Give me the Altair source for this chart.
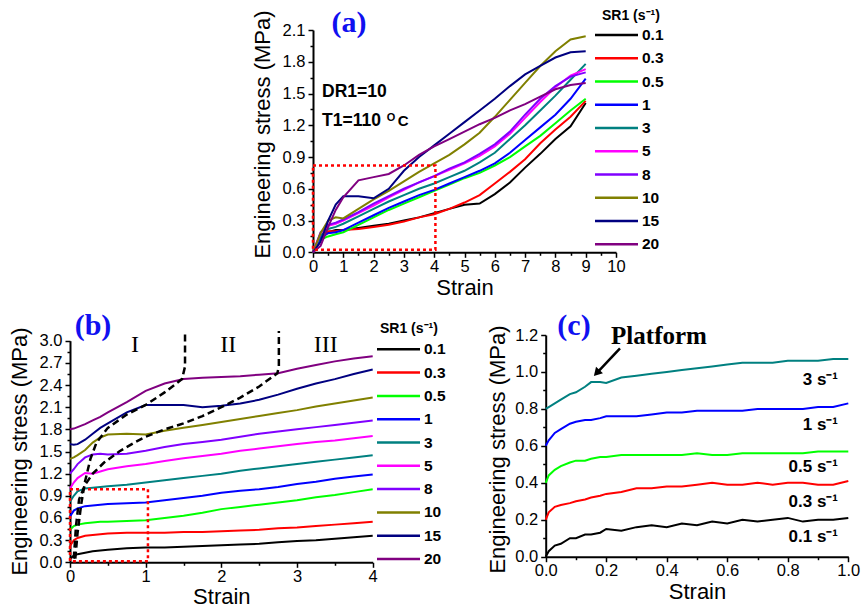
import altair as alt
import pandas as pd

SANS = "Liberation Sans"
SERIF = "Liberation Serif"

# strain-rate series shared by panels (a) and (b)
SR_LABELS = ["0.1", "0.3", "0.5", "1", "3", "5", "8", "10", "15", "20"]
SR_COLORS = ["#000000", "#ff0000", "#00ff00", "#0000ff", "#008080",
             "#ff00ff", "#8000ff", "#808000", "#000080", "#800080"]

# ---- panel (a): full stress-strain curves, DR1=10, T1=110 C ----
A_STRAIN = [0, 0.25, 0.5, 0.75, 1, 1.5, 2, 2.5, 3, 3.5, 4, 4.5, 5, 5.5, 6, 6.5, 7, 7.5, 8, 8.5, 9]
A_SR01 = [0.0, 0.12, 0.19, 0.21, 0.21, 0.23, 0.25, 0.27, 0.30, 0.33, 0.37, 0.41, 0.45, 0.46, 0.55, 0.66, 0.80, 0.93, 1.07, 1.19, 1.41]
A_SR03 = [0.0, 0.14, 0.20, 0.20, 0.21, 0.22, 0.24, 0.26, 0.29, 0.33, 0.36, 0.41, 0.47, 0.54, 0.65, 0.76, 0.88, 1.03, 1.16, 1.28, 1.43]
A_SR05 = [0.0, 0.12, 0.15, 0.17, 0.19, 0.26, 0.33, 0.40, 0.46, 0.52, 0.58, 0.64, 0.70, 0.75, 0.82, 0.90, 1.00, 1.10, 1.22, 1.34, 1.45]
A_SR1 = [0.0, 0.14, 0.18, 0.19, 0.21, 0.28, 0.35, 0.42, 0.48, 0.54, 0.59, 0.65, 0.71, 0.77, 0.84, 0.94, 1.06, 1.18, 1.30, 1.45, 1.64]
A_SR3 = [0.0, 0.16, 0.22, 0.24, 0.27, 0.34, 0.41, 0.48, 0.54, 0.60, 0.65, 0.71, 0.77, 0.85, 0.94, 1.07, 1.20, 1.34, 1.48, 1.63, 1.78]
A_SR5 = [0.0, 0.18, 0.25, 0.27, 0.30, 0.37, 0.44, 0.52, 0.59, 0.66, 0.72, 0.78, 0.84, 0.91, 1.00, 1.12, 1.27, 1.42, 1.56, 1.67, 1.73]
A_SR8 = [0.0, 0.19, 0.26, 0.28, 0.31, 0.38, 0.46, 0.53, 0.60, 0.66, 0.72, 0.79, 0.85, 0.93, 1.02, 1.14, 1.30, 1.45, 1.57, 1.66, 1.70]
A_SR10 = [0.0, 0.18, 0.30, 0.33, 0.32, 0.41, 0.50, 0.58, 0.67, 0.76, 0.84, 0.92, 1.02, 1.13, 1.28, 1.44, 1.60, 1.76, 1.90, 2.01, 2.04]
A_SR15 = [0.0, 0.10, 0.30, 0.45, 0.53, 0.53, 0.51, 0.60, 0.77, 0.90, 1.01, 1.12, 1.23, 1.34, 1.45, 1.57, 1.68, 1.76, 1.84, 1.89, 1.90]
A_SR20 = [0.0, 0.06, 0.24, 0.40, 0.52, 0.68, 0.71, 0.74, 0.82, 0.92, 1.00, 1.07, 1.14, 1.21, 1.27, 1.34, 1.40, 1.47, 1.54, 1.58, 1.60]

# ---- panel (b): strain 0-4, curves shifted upward by 0.2 MPa per rate ----
B_STRAIN = [0, 0.05, 0.1, 0.2, 0.3, 0.4, 0.5, 0.75, 1, 1.25, 1.5, 1.75, 2, 2.25, 2.5, 2.75, 3, 3.25, 3.5, 3.75, 4]
B_SR01 = [0.05, 0.09, 0.11, 0.13, 0.15, 0.16, 0.17, 0.19, 0.20, 0.20, 0.21, 0.22, 0.23, 0.24, 0.25, 0.27, 0.29, 0.30, 0.32, 0.34, 0.36]
B_SR03 = [0.22, 0.30, 0.33, 0.36, 0.37, 0.38, 0.39, 0.40, 0.40, 0.40, 0.41, 0.41, 0.42, 0.43, 0.44, 0.46, 0.47, 0.49, 0.51, 0.53, 0.55]
B_SR05 = [0.44, 0.49, 0.51, 0.53, 0.54, 0.55, 0.55, 0.56, 0.57, 0.60, 0.63, 0.67, 0.72, 0.75, 0.78, 0.81, 0.84, 0.88, 0.91, 0.95, 0.99]
B_SR1 = [0.62, 0.70, 0.73, 0.76, 0.77, 0.78, 0.79, 0.80, 0.81, 0.84, 0.87, 0.90, 0.94, 0.97, 0.99, 1.02, 1.06, 1.09, 1.13, 1.16, 1.19]
B_SR3 = [0.82, 0.90, 0.96, 1.00, 1.01, 1.02, 1.03, 1.05, 1.08, 1.11, 1.14, 1.17, 1.20, 1.24, 1.27, 1.30, 1.33, 1.36, 1.39, 1.42, 1.45]
B_SR5 = [1.00, 1.08, 1.14, 1.21, 1.20, 1.23, 1.26, 1.30, 1.33, 1.37, 1.41, 1.44, 1.47, 1.51, 1.54, 1.57, 1.60, 1.63, 1.65, 1.68, 1.71]
B_SR8 = [1.20, 1.26, 1.33, 1.42, 1.46, 1.47, 1.46, 1.47, 1.51, 1.56, 1.60, 1.63, 1.66, 1.70, 1.74, 1.77, 1.80, 1.83, 1.86, 1.89, 1.92]
B_SR10 = [1.40, 1.42, 1.45, 1.52, 1.62, 1.69, 1.73, 1.74, 1.73, 1.78, 1.82, 1.86, 1.90, 1.94, 1.98, 2.02, 2.06, 2.11, 2.15, 2.19, 2.23]
B_SR15 = [1.60, 1.59, 1.60, 1.66, 1.74, 1.82, 1.88, 2.03, 2.13, 2.13, 2.13, 2.10, 2.12, 2.15, 2.20, 2.27, 2.35, 2.42, 2.48, 2.55, 2.61]
B_SR20 = [1.80, 1.81, 1.83, 1.87, 1.92, 1.97, 2.03, 2.17, 2.32, 2.42, 2.48, 2.50, 2.51, 2.52, 2.54, 2.56, 2.62, 2.67, 2.72, 2.76, 2.79]

# region boundaries I/II and II/III
BOUND1_X = [0.07, 0.10, 0.15, 0.20, 0.27, 0.35, 0.50, 0.75, 1.00, 1.25, 1.48, 1.52, 1.52]
BOUND1_Y = [0.05, 0.40, 0.80, 1.10, 1.40, 1.62, 1.82, 2.00, 2.13, 2.30, 2.48, 2.65, 3.13]
BOUND2_X = [0.05, 0.08, 0.12, 0.20, 0.30, 0.45, 0.65, 0.85, 1.00, 1.25, 1.50, 1.75, 2.00, 2.25, 2.50, 2.74, 2.76, 2.76]
BOUND2_Y = [0.05, 0.50, 0.85, 1.05, 1.20, 1.35, 1.50, 1.62, 1.70, 1.80, 1.88, 1.98, 2.10, 2.23, 2.38, 2.56, 2.65, 3.13]

# ---- panel (c): early stage, strain 0-1 ----
C_STRAIN = [0, 0.01, 0.03, 0.05, 0.08, 0.1, 0.13, 0.15, 0.18, 0.2, 0.25, 0.3, 0.35, 0.4,
            0.45, 0.5, 0.55, 0.6, 0.65, 0.7, 0.75, 0.8, 0.85, 0.9, 0.95, 1.0]
C_SR01 = [0.0, 0.03, 0.06, 0.07, 0.10, 0.10, 0.12, 0.12, 0.13, 0.15, 0.14, 0.16, 0.17, 0.16,
          0.18, 0.17, 0.19, 0.18, 0.20, 0.19, 0.20, 0.21, 0.19, 0.20, 0.20, 0.21]
C_SR03 = [0.20, 0.24, 0.27, 0.28, 0.29, 0.30, 0.31, 0.32, 0.33, 0.34, 0.35, 0.37, 0.37, 0.38,
          0.38, 0.39, 0.40, 0.39, 0.39, 0.40, 0.39, 0.40, 0.40, 0.39, 0.39, 0.41]
C_SR05 = [0.40, 0.44, 0.47, 0.49, 0.51, 0.52, 0.52, 0.53, 0.54, 0.54, 0.55, 0.55, 0.55, 0.55,
          0.55, 0.56, 0.55, 0.55, 0.56, 0.56, 0.56, 0.56, 0.56, 0.57, 0.57, 0.57]
C_SR1 = [0.60, 0.63, 0.67, 0.69, 0.72, 0.73, 0.74, 0.74, 0.75, 0.76, 0.76, 0.76, 0.77, 0.78,
         0.78, 0.79, 0.79, 0.79, 0.79, 0.80, 0.80, 0.80, 0.80, 0.81, 0.81, 0.83]
C_SR3 = [0.80, 0.81, 0.83, 0.85, 0.88, 0.89, 0.92, 0.945, 0.945, 0.94, 0.97, 0.98, 0.99, 1.00,
         1.01, 1.02, 1.03, 1.04, 1.05, 1.05, 1.05, 1.06, 1.06, 1.06, 1.07, 1.07]
C_LABELS = ["0.1 s⁻¹", "0.3 s⁻¹", "0.5 s⁻¹", "1 s⁻¹", "3 s⁻¹"]
C_COLORS = ["#000000", "#ff0000", "#00ff00", "#0000ff", "#008080"]
C_LABEL_Y = [0.108, 0.297, 0.487, 0.714, 0.958]


def long_frame(xs, series):
    rows = []
    for label, ys in series:
        for x, y in zip(xs, ys):
            rows.append({"x": x, "y": y, "sr": label})
    return pd.DataFrame(rows)


def main_axis(orient, values, fmt, offset, title, title_pad, title_y=None):
    opts = dict(orient=orient, values=values, format=fmt, offset=offset, title=title,
                grid=False, domainColor="black", domainWidth=2, tickColor="black",
                tickWidth=1.5, tickSize=5, labelFont=SANS, labelFontSize=16.5,
                labelColor="black", labelPadding=1 if orient == "bottom" else 3,
                labelFlush=False, labelOverlap=False, titleFont=SANS, titleFontSize=22,
                titleFontWeight="normal", titleColor="black", titlePadding=title_pad)
    if title_y is not None:
        opts["titleY"] = title_y
    return alt.Axis(**opts)


def minor_axis(orient, values, offset):
    return alt.Axis(orient=orient, values=values, offset=offset, title=None, grid=False,
                    domain=False, labels=False, tickColor="black", tickWidth=1.5, tickSize=3)


def sr_color(domain, rng):
    return alt.Color("sr:N", scale=alt.Scale(domain=domain, range=rng), legend=None)


def text_layer(df, xs, ys, **mark):
    return alt.Chart(df).mark_text(**mark).encode(
        x=alt.X("x:Q", scale=xs, axis=None), y=alt.Y("y:Q", scale=ys, axis=None), text="t:N")


def legend_block(x0, x1, xt, y_top, y_bottom, title_x, title_y):
    leg_df = pd.DataFrame({"sr": SR_LABELS})
    ly = alt.Y("sr:N", scale=alt.Scale(type="point", domain=SR_LABELS,
                                       range=[y_top, y_bottom], padding=0), axis=None)
    swatches = alt.Chart(leg_df).mark_rule(strokeWidth=2.5).encode(
        x=alt.value(x0), x2=alt.value(x1), y=ly, color=sr_color(SR_LABELS, SR_COLORS))
    labels = alt.Chart(leg_df).mark_text(
        align="left", baseline="middle", font=SANS, fontWeight="bold", fontSize=15.5,
        color="black").encode(x=alt.value(xt), y=ly, text="sr:N")
    head = alt.Chart(pd.DataFrame({"t": ["SR1 (s⁻¹)"]})).mark_text(
        align="left", baseline="middle", font=SANS, fontWeight="bold", fontSize=14,
        color="black").encode(x=alt.value(title_x), y=alt.value(title_y), text="t:N")
    return alt.layer(swatches, labels, head)


# ================= panel (a) =================
xa = alt.Scale(domain=[0, 10], range=[313, 616], nice=False, zero=False)
ya = alt.Scale(domain=[0, 2.1], range=[252.3, 30], nice=False, zero=False)
A_XOFF = 252.3 - 608
A_YOFF = -313

df_a = long_frame(A_STRAIN, zip(SR_LABELS, [A_SR01, A_SR03, A_SR05, A_SR1, A_SR3,
                                            A_SR5, A_SR8, A_SR10, A_SR15, A_SR20]))
lines_a = alt.Chart(df_a).mark_line(strokeWidth=2).encode(
    x=alt.X("x:Q", scale=xa, axis=main_axis("bottom", list(range(11)), "d", A_XOFF, "Strain", 3)),
    y=alt.Y("y:Q", scale=ya, axis=main_axis("left", [0.0, 0.3, 0.6, 0.9, 1.2, 1.5, 1.8, 2.1], ".1f",
                                           A_YOFF, "Engineering stress (MPa)", 8, 134)),
    color=sr_color(SR_LABELS, SR_COLORS))

box_a = alt.Chart(pd.DataFrame({"x": [0.0], "x2": [4.04], "y": [0.025], "y2": [0.82]})).mark_rect(
    fillOpacity=0, stroke="#ff0000", strokeWidth=2.5, strokeDash=[3, 3]).encode(
    x=alt.X("x:Q", scale=xa, axis=minor_axis("bottom", [i + 0.5 for i in range(10)], A_XOFF)),
    x2="x2:Q",
    y=alt.Y("y:Q", scale=ya, axis=minor_axis("left", [0.15 + 0.3 * i for i in range(7)], A_YOFF)),
    y2="y2:Q")

note_dr = text_layer(pd.DataFrame({"x": [0.3], "y": [1.47], "t": ["DR1=10"]}), xa, ya,
                     align="left", baseline="alphabetic", font=SANS, fontWeight="bold", fontSize=17.5)
note_t = text_layer(pd.DataFrame({"x": [0.3], "y": [1.193], "t": ["T1=110"]}), xa, ya,
                    align="left", baseline="alphabetic", font=SANS, fontWeight="bold", fontSize=17.5)
note_o = text_layer(pd.DataFrame({"x": [2.43], "y": [1.24], "t": ["O"]}), xa, ya,
                    align="left", baseline="alphabetic", font=SANS, fontWeight="bold", fontSize=11)
note_c = text_layer(pd.DataFrame({"x": [2.80], "y": [1.193], "t": ["C"]}), xa, ya,
                    align="left", baseline="alphabetic", font=SANS, fontWeight="bold", fontSize=15)
tag_a = text_layer(pd.DataFrame({"x": [1.19], "y": [2.166], "t": ["(a)"]}), xa, ya,
                   align="center", baseline="middle", font=SERIF, fontWeight="bold",
                   fontSize=30, color="#1010f0")

panel_a = alt.layer(lines_a, box_a, note_dr, note_t, note_o, note_c, tag_a).resolve_axis(
    x="independent", y="independent")
legend_a = legend_block(595, 638, 642, 35, 244.3, 602, 16)

# ================= panel (b) =================
xb = alt.Scale(domain=[0, 4], range=[70, 372.7], nice=False, zero=False)
yb = alt.Scale(domain=[0, 3.0], range=[562.3, 340.7], nice=False, zero=False)
B_XOFF = 562.3 - 608
B_YOFF = -70

df_b = long_frame(B_STRAIN, zip(SR_LABELS, [B_SR01, B_SR03, B_SR05, B_SR1, B_SR3,
                                            B_SR5, B_SR8, B_SR10, B_SR15, B_SR20]))
lines_b = alt.Chart(df_b).mark_line(strokeWidth=2).encode(
    x=alt.X("x:Q", scale=xb, axis=main_axis("bottom", [0, 1, 2, 3, 4], "d", B_XOFF, "Strain", 2)),
    y=alt.Y("y:Q", scale=yb, axis=main_axis("left", [0.0, 0.3, 0.6, 0.9, 1.2, 1.5, 1.8, 2.1, 2.4, 2.7, 3.0],
                                           ".1f", B_YOFF, "Engineering stress (MPa)", 8, 451)),
    color=sr_color(SR_LABELS, SR_COLORS))

bound_rows = ([{"x": x, "y": y, "line": "I/II", "i": i} for i, (x, y) in enumerate(zip(BOUND1_X, BOUND1_Y))]
              + [{"x": x, "y": y, "line": "II/III", "i": i} for i, (x, y) in enumerate(zip(BOUND2_X, BOUND2_Y))])
bounds_b = alt.Chart(pd.DataFrame(bound_rows)).mark_line(
    color="black", strokeWidth=2.5, strokeDash=[7, 4]).encode(
    x=alt.X("x:Q", scale=xb, axis=None), y=alt.Y("y:Q", scale=yb, axis=None),
    detail="line:N", order="i:Q")

box_b = alt.Chart(pd.DataFrame({"x": [0.0], "x2": [1.03], "y": [0.015], "y2": [0.99]})).mark_rect(
    fillOpacity=0, stroke="#ff0000", strokeWidth=2.5, strokeDash=[3, 3]).encode(
    x=alt.X("x:Q", scale=xb, axis=minor_axis("bottom", [0.5, 1.5, 2.5, 3.5], B_XOFF)),
    x2="x2:Q",
    y=alt.Y("y:Q", scale=yb, axis=minor_axis("left", [0.15 + 0.3 * i for i in range(10)], B_YOFF)),
    y2="y2:Q")

regions_b = text_layer(pd.DataFrame({"x": [0.86, 2.09, 3.38], "y": [2.94, 2.94, 2.94],
                                     "t": ["I", "II", "III"]}), xb, yb,
                       align="center", baseline="middle", font=SERIF, fontSize=24, color="black")
tag_b = text_layer(pd.DataFrame({"x": [0.304], "y": [3.198], "t": ["(b)"]}), xb, yb,
                   align="center", baseline="middle", font=SERIF, fontWeight="bold",
                   fontSize=30, color="#1010f0")

panel_b = alt.layer(lines_b, box_b, bounds_b, regions_b, tag_b).resolve_axis(
    x="independent", y="independent")
legend_b = legend_block(377, 420, 424, 349.3, 559, 380, 329)

# ================= panel (c) =================
xc = alt.Scale(domain=[0, 1.0], range=[545.7, 848.3], nice=False, zero=False)
yc = alt.Scale(domain=[0, 1.2], range=[556.7, 335], nice=False, zero=False)
C_XOFF = 556.7 - 608
C_YOFF = -545.7

df_c = long_frame(C_STRAIN, zip(C_LABELS, [C_SR01, C_SR03, C_SR05, C_SR1, C_SR3]))
lines_c = alt.Chart(df_c).mark_line(strokeWidth=2).encode(
    x=alt.X("x:Q", scale=xc, axis=main_axis("bottom", [0.0, 0.2, 0.4, 0.6, 0.8, 1.0], ".1f",
                                           C_XOFF, "Strain", 2)),
    y=alt.Y("y:Q", scale=yc, axis=main_axis("left", [0.0, 0.2, 0.4, 0.6, 0.8, 1.0, 1.2], ".1f",
                                           C_YOFF, "Engineering stress (MPa)", 5, 449)),
    color=sr_color(C_LABELS, C_COLORS))

minor_c = alt.Chart(pd.DataFrame({"x": [0.0], "y": [0.0]})).mark_point(opacity=0).encode(
    x=alt.X("x:Q", scale=xc, axis=minor_axis("bottom", [0.1, 0.3, 0.5, 0.7, 0.9], C_XOFF)),
    y=alt.Y("y:Q", scale=yc, axis=minor_axis("left", [0.1, 0.3, 0.5, 0.7, 0.9, 1.1], C_YOFF)))

labels_c = text_layer(pd.DataFrame({"x": [0.966] * 5, "y": C_LABEL_Y, "t": C_LABELS}), xc, yc,
                      align="right", baseline="middle", font=SANS, fontWeight="bold",
                      fontSize=17, color="black")

arrow_line = alt.Chart(pd.DataFrame({"x": [0.2455], "y": [1.128], "x2": [0.1685], "y2": [0.994]})).mark_rule(
    color="black", strokeWidth=2.5).encode(
    x=alt.X("x:Q", scale=xc, axis=None), y=alt.Y("y:Q", scale=yc, axis=None), x2="x2:Q", y2="y2:Q")
arrow_head = alt.Chart(pd.DataFrame({"x": [0.1685], "y": [0.994]})).mark_point(
    shape="triangle-up", filled=True, color="black", opacity=1, size=90, angle=223).encode(
    x=alt.X("x:Q", scale=xc, axis=None), y=alt.Y("y:Q", scale=yc, axis=None))
platform = text_layer(pd.DataFrame({"x": [0.3744], "y": [1.1946], "t": ["Platform"]}), xc, yc,
                      align="center", baseline="middle", font=SERIF, fontWeight="bold",
                      fontSize=25, color="black")
tag_c = text_layer(pd.DataFrame({"x": [0.0935], "y": [1.249], "t": ["(c)"]}), xc, yc,
                   align="center", baseline="middle", font=SERIF, fontWeight="bold",
                   fontSize=30, color="#1010f0")

panel_c = alt.layer(lines_c, minor_c, labels_c, arrow_line, arrow_head, platform, tag_c).resolve_axis(
    x="independent", y="independent")

chart = alt.layer(panel_a, legend_a, panel_b, legend_b, panel_c).resolve_scale(
    x="independent", y="independent", color="independent"
).properties(
    width=861, height=608, padding=0, autosize=alt.AutoSizeParams(type="none")
).configure_view(stroke=None)

chart.save("out.html", embed_options={"renderer": "svg", "actions": False})
